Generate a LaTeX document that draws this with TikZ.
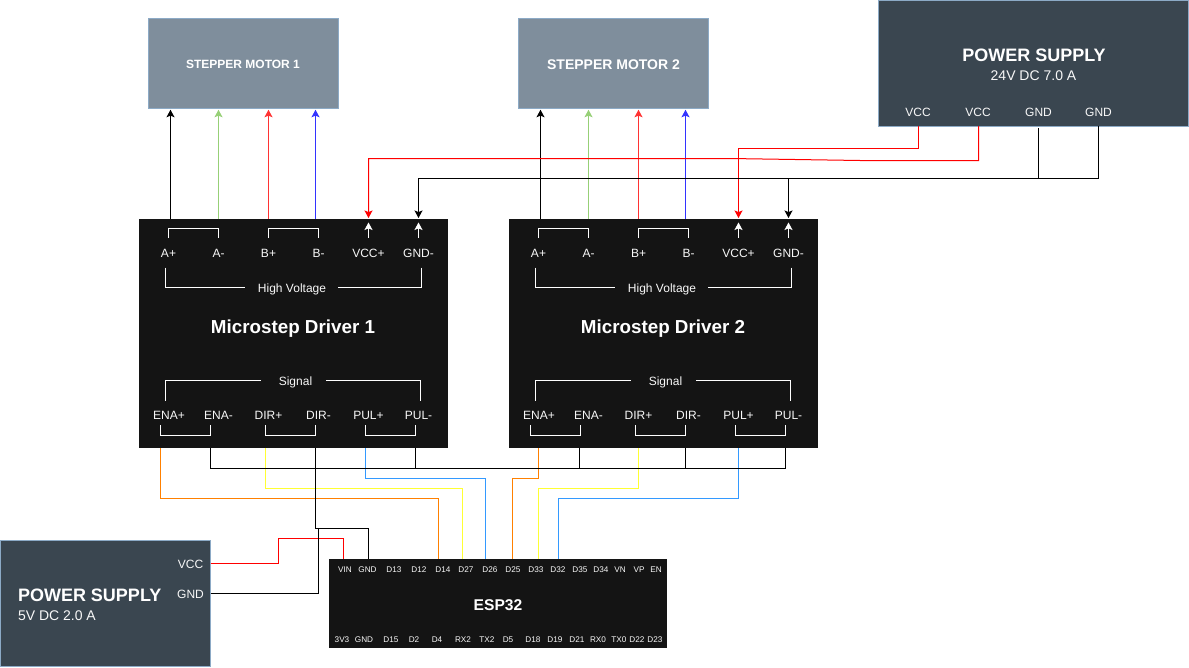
\documentclass[tikz,border=0pt]{standalone}
\usepackage{fontspec}
\setmainfont{Liberation Sans}
\usetikzlibrary{arrows.meta}
\definecolor{boxdark}{HTML}{141414}
\definecolor{psfill}{HTML}{3A4650}
\definecolor{motorfill}{HTML}{7F8E9C}
\definecolor{edgeblue}{HTML}{8CAAC6}
\definecolor{wgreen}{HTML}{97D077}
\definecolor{wred}{HTML}{FF3333}
\definecolor{wblue}{HTML}{3333FF}
\definecolor{worange}{HTML}{FF8000}
\definecolor{wyellow}{HTML}{FFFF33}
\definecolor{wsky}{HTML}{3399FF}
\definecolor{soft}{HTML}{F8F8F8}
\newcommand{\fs}[1]{\fontsize{#1}{#1}\selectfont}
\tikzset{
  blockbox/.style={rectangle,inner sep=0pt,outer sep=0pt,fill=boxdark,minimum width=#1},
  psbox/.style={rectangle,inner sep=0pt,outer sep=0pt,fill=psfill,draw=edgeblue,line width=1pt},
  motorbox/.style={rectangle,inner sep=0pt,outer sep=0pt,fill=motorfill,draw=edgeblue,line width=1pt,minimum width=190pt,minimum height=90.5pt},
  lbl/.style={anchor=base,inner sep=0pt,outer sep=0pt,text=soft,font=\fs{12}},
  esplbl/.style={anchor=base,inner sep=0pt,outer sep=0pt,text=soft,font=\fs{8.2}},
  titlelbl/.style={anchor=base,inner sep=0pt,outer sep=0pt,text=white,font=\fs{#1}\bfseries},
  wire/.style={line width=1pt,miter limit=10},
  inner/.style={line width=1pt,draw=white},
  tip/.style={-{Stealth[length=7.5pt,width=8pt,inset=1.6pt]},shorten >=1pt},
}
\begin{document}
\begin{tikzpicture}[x=1pt,y=-1pt]
\useasboundingbox (0,0) rectangle (1189,667);
% blocks
\node[motorbox] (m1) at (243.5,63.5) {};
\node[motorbox] (m2) at (613.5,63.5) {};
\node[titlelbl=12] (m1t) at (243,68) {STEPPER MOTOR 1};
\node[titlelbl=14] (m2t) at (613.5,69) {STEPPER MOTOR 2};
\node[psbox,minimum width=310pt,minimum height=126pt] (ps24) at (1033.5,63.5) {};
\node[psbox,minimum width=210pt,minimum height=126pt] (ps5) at (105.5,603.5) {};
\node[titlelbl=18] (ps24t) at (1034,61.7) {POWER SUPPLY};
\node[lbl,font=\fs{14},text=soft] (ps24s) at (1033.5,80) {24V DC 7.0 A};
\node[titlelbl=18,anchor=base west] (ps5t) at (18,601.7) {POWER SUPPLY};
\node[lbl,anchor=base west,font=\fs{14}] (ps5s) at (18,620) {5V DC 2.0 A};
\foreach \nm/\t/\x in {a/VCC/918,b/VCC/978,c/GND/1038.5,d/GND/1098.5}
  \node[lbl] (ps24\nm) at (\x,116) {\t};
\node[lbl] (ps5a) at (190.5,568) {VCC};
\node[lbl] (ps5b) at (190.5,598) {GND};
% drivers
\foreach \n/\dx in {1/0,2/370}{
  \begin{scope}[xshift=\dx pt]
    \node[blockbox=309pt,minimum height=229pt] (d\n) at (293.5,333.5) {};
    \node[titlelbl=18.8] (d\n t) at (293,333) {Microstep Driver \n};
    \foreach \nm/\t/\x in {Ap/A+/168.5,Am/A-/218.5,Bp/B+/268.5,Bm/B-/318.5,Vc/VCC+/368.5,Gn/GND-/418.5}
      \node[lbl] (d\n\nm) at (\x,257) {\t};
    \foreach \nm/\t/\x in {Ep/ENA+/169,Em/ENA-/218.5,Dp/DIR+/268.5,Dm/DIR-/318.5,Pp/PUL+/368.5,Pm/PUL-/418.5}
      \node[lbl] (d\n\nm) at (\x,419.2) {\t};
    \node[lbl] (d\n hv) at (292,292) {High Voltage};
    \node[lbl] (d\n sg) at (295.5,385) {Signal};
    % inner brackets
    \coordinate (d\n ia) at (168.5,238); \coordinate (d\n ib) at (218.5,238);
    \coordinate (d\n ic) at (268.5,238); \coordinate (d\n id) at (318.5,238);
    \draw[inner] (d\n ia) -- ++(0,-9.5) -| (d\n ib);
    \draw[inner] (d\n ic) -- ++(0,-9.5) -| (d\n id);
    \coordinate (d\n va) at (368.5,237.5); \coordinate (d\n vb) at (418.5,237.5);
    \coordinate (d\n vt) at (368.5,222.5); \coordinate (d\n gt) at (418.5,222.5);
    \draw[inner,-{Stealth[length=7.5pt,width=8pt,inset=1.6pt]}] (d\n va) -- (d\n vt);
    \draw[inner,-{Stealth[length=7.5pt,width=8pt,inset=1.6pt]}] (d\n vb) -- (d\n gt);
    \coordinate (d\n ha) at (165.5,267.5); \coordinate (d\n hb) at (421.5,267.5);
    \draw[inner] (d\n ha) |- (245,287.5);
    \draw[inner] (d\n hb) |- (338,287.5);
    \coordinate (d\n sa) at (165.5,400.5); \coordinate (d\n sb) at (420.5,400.5);
    \draw[inner] (d\n sa) |- (260.5,380.5);
    \draw[inner] (d\n sb) |- (326,380.5);
    \coordinate (d\n ea) at (160.5,425); \coordinate (d\n eb) at (210.5,425);
    \coordinate (d\n ec) at (265.5,425); \coordinate (d\n ed) at (315.5,425);
    \coordinate (d\n ee) at (365.5,425); \coordinate (d\n ef) at (415.5,425);
    \draw[inner] (d\n ea) -- ++(0,10.5) -| (d\n eb);
    \draw[inner] (d\n ec) -- ++(0,10.5) -| (d\n ed);
    \draw[inner] (d\n ee) -- ++(0,10.5) -| (d\n ef);
    % top terminals
    \coordinate (t\n A) at (170.5,219); \coordinate (t\n a) at (218.5,219);
    \coordinate (t\n B) at (268.5,219); \coordinate (t\n b) at (315.5,219);
    \coordinate (t\n V) at (368.5,219); \coordinate (t\n G) at (418.5,219);
    \draw[wire,black,tip] (t\n A) -- (m\n.south -| t\n A);
    \draw[wire,wgreen,tip] (t\n a) -- (m\n.south -| t\n a);
    \draw[wire,wred,tip] (t\n B) -- (m\n.south -| t\n B);
    \draw[wire,wblue,tip] (t\n b) -- (m\n.south -| t\n b);
  \end{scope}
}
% ESP32
\node[blockbox=338pt,minimum height=89pt] (esp) at (498,603.5) {};
\node[titlelbl=15.6] (espt) at (498,610) {ESP32};
\foreach \t/\x in {VIN/345,GND/367.5,D13/394,D12/419,D14/443,D27/466,D26/490,D25/513,D33/536,D32/558,D35/580,D34/601,VN/620,VP/639,EN/656}
  \node[esplbl] (top\t) at (\x,572.7) {\t};
\foreach \t/\x in {3V3/342,GND/364,D15/391,D2/414,D4/437,RX2/463,TX2/487,D5/508,D18/533,D19/555,D21/577,RX0/598,TX0/619,D22/637,D23/655}
  \node[esplbl] (bot\t) at (\x,642.7) {\t};
% terminals
\coordinate (a1) at (160.5,448); \coordinate (a2) at (210.5,448);
\coordinate (a3) at (265.5,448); \coordinate (a4) at (315.5,448);
\coordinate (a5) at (365.5,448); \coordinate (a6) at (415.5,448);
\coordinate (b1) at (538.5,448); \coordinate (b2) at (579.5,448);
\coordinate (b3) at (638.5,448); \coordinate (b4) at (685,448);
\coordinate (b5) at (738.5,448); \coordinate (b6) at (785,448);
\coordinate (eVIN) at (343.5,559); \coordinate (eGND) at (368.5,559);
\coordinate (eD14) at (438.5,559); \coordinate (eD27) at (462.5,559);
\coordinate (eD26) at (485.5,559); \coordinate (eD25) at (512.5,559);
\coordinate (eD33) at (538.5,559); \coordinate (eD32) at (558,559);
\coordinate (pv1) at (918.5,126); \coordinate (pv2) at (978.5,126);
\coordinate (pg1) at (1038.5,128); \coordinate (pg2) at (1098.5,126);
\coordinate (sv) at (210.5,563.5); \coordinate (sg) at (210.5,593.5);
% signal wires
\draw[wire,worange] (a1) |- (eD14 |- 0,498.5) -- (eD14);
\draw[wire,wyellow] (a3) |- (eD27 |- 0,488.5) -- (eD27);
\draw[wire,wsky] (a5) |- (eD26 |- 0,478.5) -- (eD26);
\draw[wire,worange] (b1) |- (eD25 |- 0,478.5) -- (eD25);
\draw[wire,wyellow] (b3) |- (eD33 |- 0,488.5) -- (eD33);
\draw[wire,wsky] (b5) |- (eD32 |- 0,498.5) -- (eD32);
% common black
\draw[wire,black] (a2) |- (b6 |- 0,468.5) -- (b6);
\draw[wire,black] (a6) -- (a6 |- 0,468.5);
\draw[wire,black] (b2) -- (b2 |- 0,468.5);
\draw[wire,black] (b4) -- (b4 |- 0,468.5);
\draw[wire,black] (a4) |- (eGND |- 0,528.5) -- (eGND);
% 5 V supply
\draw[wire,red] (sv) -| (278.5,538.5) -| (eVIN);
\draw[wire,black] (sg) -| (318.5,528.5);
% 24 V supply
\draw[wire,red,tip] (pv1) |- (t2V |- 0,148.5) -- (t2V);
\draw[wire,red,tip] (pv2) -- (978.5,160.5) -- (860,160.5) -- (730,158.5) -| (t1V);
\draw[wire,black] (pg1) -- (pg1 |- 0,178.5);
\draw[wire,black,tip] (pg2) |- (t1G |- 0,178.5) -- (t1G);
\draw[wire,black,tip] (t2G |- 0,178.5) -- (t2G);
\end{tikzpicture}
\end{document}
